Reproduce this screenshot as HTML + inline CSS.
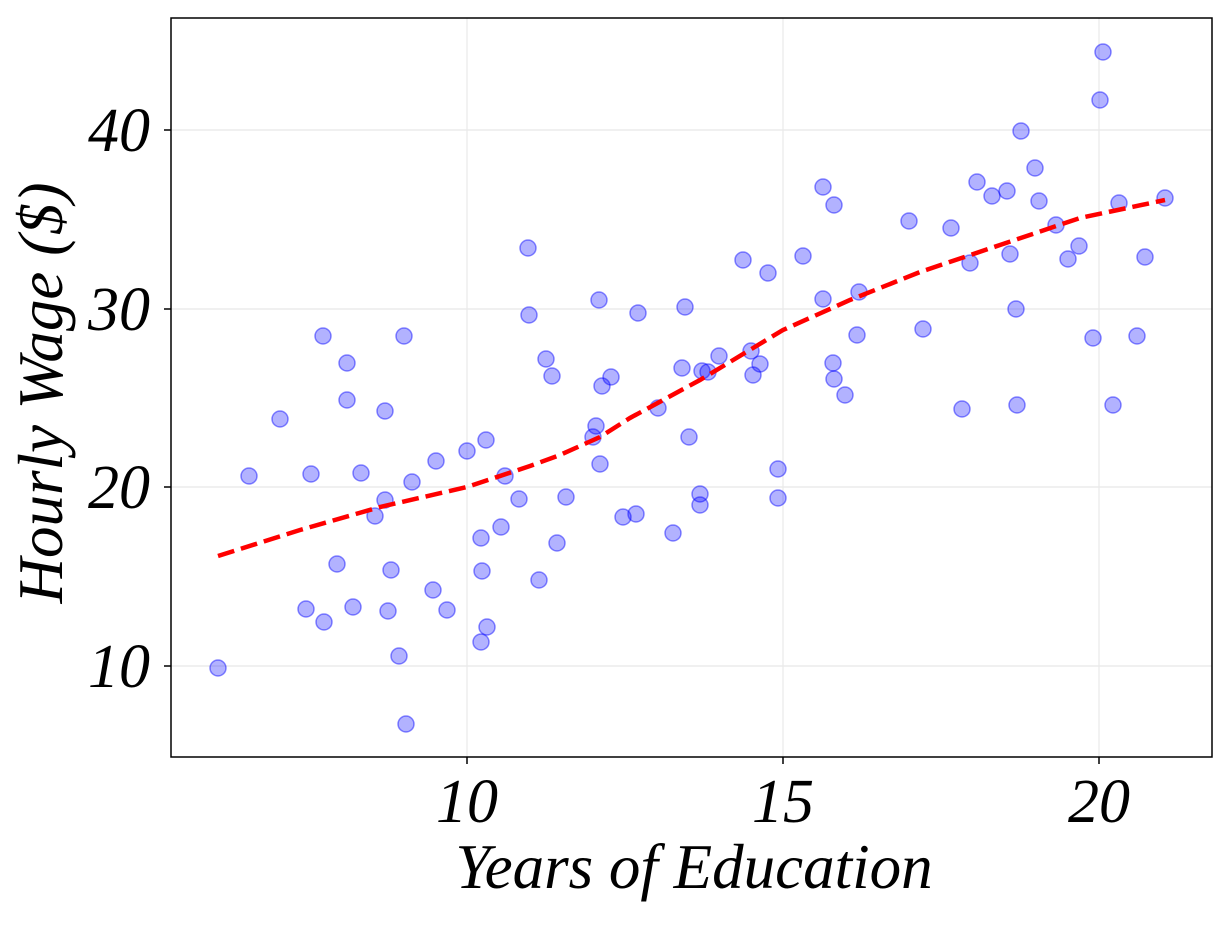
<!DOCTYPE html>
<html><head><meta charset="utf-8"><style>body{margin:0;background:#fff}</style></head><body>
<svg width="1231" height="922" xmlns="http://www.w3.org/2000/svg" font-family="Liberation Serif, serif" font-style="italic">
<g stroke="#e8e8e8" stroke-width="1.2">
<line x1="467" y1="18" x2="467" y2="757"/><line x1="783" y1="18" x2="783" y2="757"/><line x1="1099" y1="18" x2="1099" y2="757"/>
<line x1="171" y1="130" x2="1212" y2="130"/><line x1="171" y1="309" x2="1212" y2="309"/><line x1="171" y1="487" x2="1212" y2="487"/><line x1="171" y1="666" x2="1212" y2="666"/>
</g>
<g fill="rgba(0,0,255,0.3)" stroke="rgba(0,0,255,0.45)" stroke-width="1.5" id="d"></g>
<polyline fill="none" stroke="#f00" stroke-width="4.5" stroke-dasharray="17,7" points="218,556 300,530 380,507 467,487 530,466 560,455 600,437 630,418 700,380 783,330 850,300 920,272 1000,245 1080,218 1165,200"/>
<rect x="171" y="18" width="1041" height="739" fill="none" stroke="#000" stroke-width="1.5"/>
<g stroke="#000" stroke-width="1.5">
<line x1="467" y1="757" x2="467" y2="764"/><line x1="783" y1="757" x2="783" y2="764"/><line x1="1099" y1="757" x2="1099" y2="764"/>
<line x1="164" y1="130" x2="171" y2="130"/><line x1="164" y1="309" x2="171" y2="309"/><line x1="164" y1="487" x2="171" y2="487"/><line x1="164" y1="666" x2="171" y2="666"/>
</g>
<g font-size="62" text-anchor="middle">
<text x="467" y="822">10</text><text x="783" y="822">15</text><text x="1099" y="822">20</text>
</g>
<g font-size="62" text-anchor="end">
<text x="150" y="151">40</text><text x="150" y="330">30</text><text x="150" y="508">20</text><text x="150" y="687">10</text>
</g>
<text x="694" y="888" font-size="63" text-anchor="middle">Years of Education</text>
<text transform="translate(62,393) rotate(-90)" font-size="63" text-anchor="middle">Hourly Wage ($)</text>
</svg>
<script>
var p=[[218,668],[249,476],[280,419],[311,474],[306,609],[323,336],[324,622],[337,564],[347,363],[347,400],[353,607],[361,473],[375,516],[385,411],[385,500],[388,611],[391,570],[399,656],[404,336],[406,724],[412,482],[433,590],[436,461],[447,610],[467,451],[481,538],[482,571],[486,440],[487,627],[481,642],[501,527],[505,476],[519,499],[528,248],[529,315],[539,580],[546,359],[552,376],[557,543],[566,497],[593,437],[596,426],[599,300],[600,464],[602,386],[611,377],[623,517],[636,514],[638,313],[658,408],[673,533],[682,368],[685,307],[689,437],[700,494],[700,505],[702,371],[708,372],[719,356],[743,260],[751,351],[753,375],[760,364],[768,273],[778,469],[778,498],[803,256],[823,187],[823,299],[833,363],[834,379],[834,205],[845,395],[859,292],[857,335],[909,221],[923,329],[951,228],[962,409],[970,263],[977,182],[992,196],[1007,191],[1010,254],[1016,309],[1017,405],[1021,131],[1035,168],[1039,201],[1056,225],[1068,259],[1079,246],[1093,338],[1100,100],[1103,52],[1113,405],[1119,203],[1137,336],[1145,257],[1165,198]];
var g=document.getElementById('d'),s='';p.forEach(function(a){s+='<circle cx="'+a[0]+'" cy="'+a[1]+'" r="8"/>'});g.innerHTML=s;
</script>
</body></html>
